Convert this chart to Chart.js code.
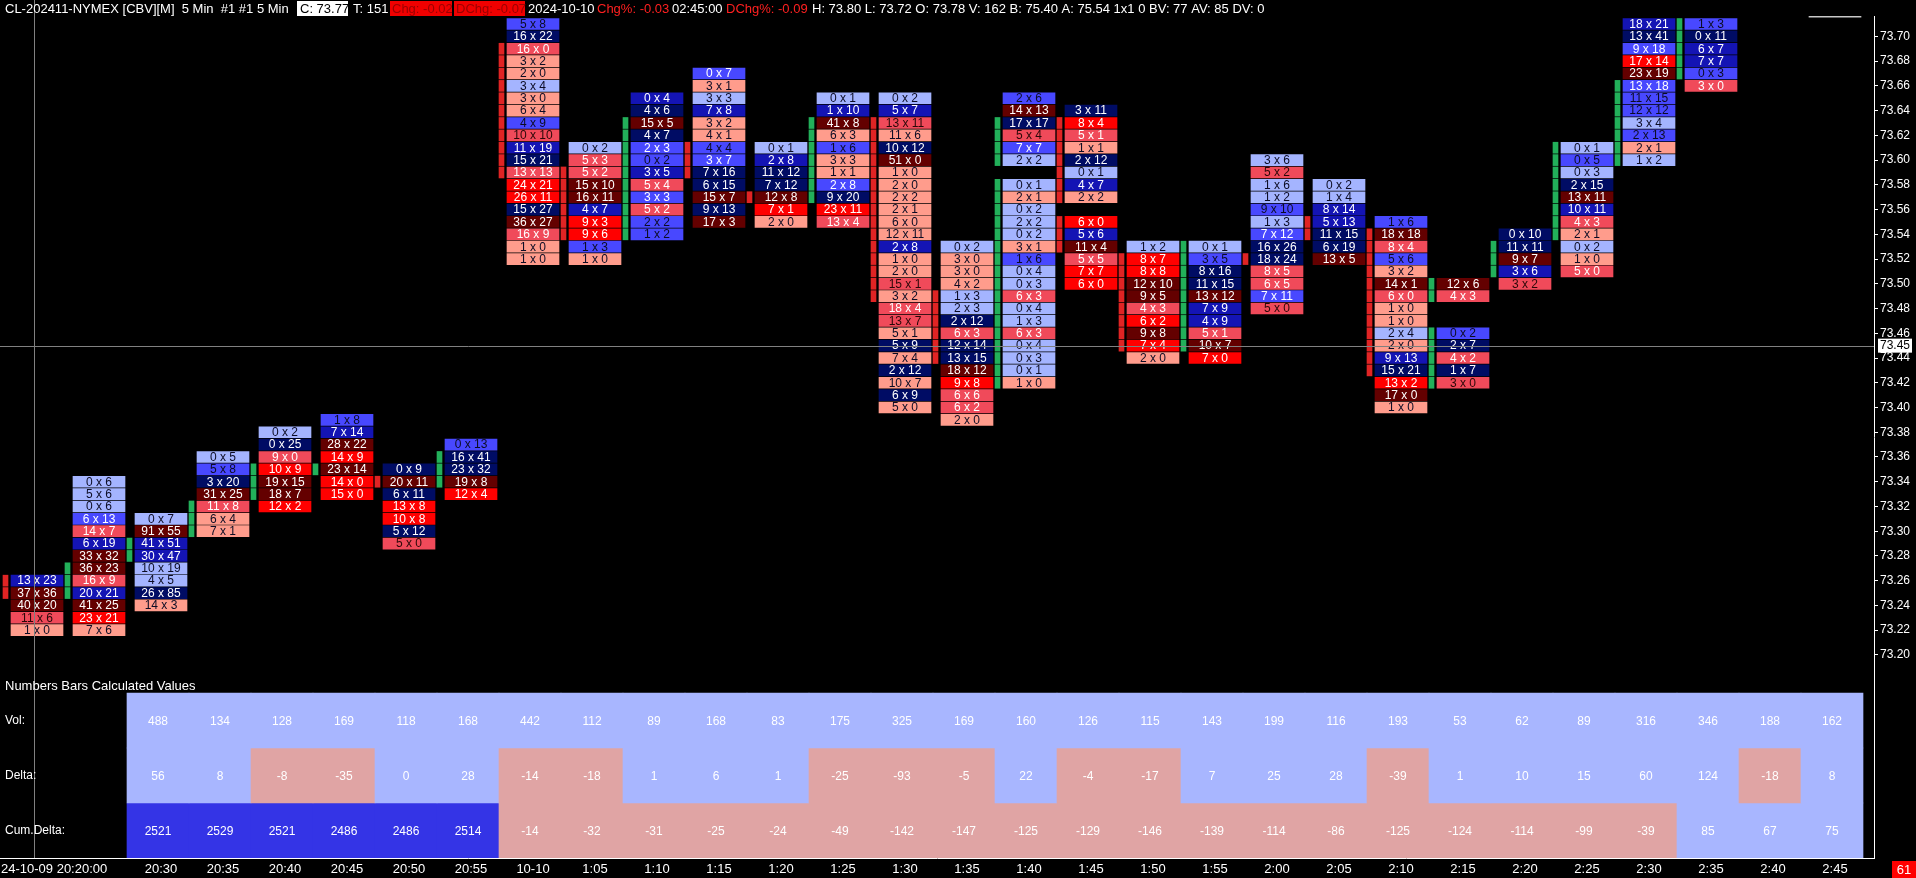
<!DOCTYPE html>
<html><head><meta charset="utf-8">
<script src="https://cdn.jsdelivr.net/npm/chart.js@4/dist/chart.umd.min.js"></script>
<style>html,body{margin:0;padding:0;background:#000;overflow:hidden}canvas{display:block}</style>
</head><body><canvas id="c" width="1916" height="878"></canvas>
<script>
// ---------------- DATA ----------------
const timeLabels = ['24-10-09 20:20:00','20:25','20:30','20:35','20:40','20:45','20:50','20:55','10-10','1:05','1:10','1:15','1:20','1:25','1:30','1:35','1:40','1:45','1:50','1:55','2:00','2:05','2:10','2:15','2:20','2:25','2:30','2:35','2:40','2:45'];
const priceTicks = [73.20,73.22,73.24,73.26,73.28,73.30,73.32,73.34,73.36,73.38,73.40,73.42,73.44,73.46,73.48,73.50,73.52,73.54,73.56,73.58,73.60,73.62,73.64,73.66,73.68,73.70];
// top price of each footprint bar (cells go down 0.01 per row)
const topPrice = [73.26,73.34,73.31,73.36,73.38,73.39,73.35,73.37,73.71,73.61,73.65,73.67,73.61,73.65,73.65,73.53,73.65,73.64,73.53,73.53,73.60,73.58,73.55,73.50,73.54,73.61,73.71,73.71,73.72,73.72];
const bidVol = [
 [13,37,40,11,1],
 [0,5,0,6,14,6,33,36,16,20,41,23,7],
 [0,91,41,30,10,4,26,14],
 [0,5,3,31,11,6,7],
 [0,0,9,10,19,18,12],
 [1,7,28,14,23,14,15],
 [0,20,6,13,10,5,5],
 [0,16,23,19,12],
 [5,16,16,3,2,3,3,6,4,10,11,15,13,24,26,15,36,16,1,1],
 [0,5,5,15,16,4,9,9,1,1],
 [0,4,15,4,2,0,3,5,3,5,2,1],
 [0,3,3,7,3,4,4,3,7,6,15,9,17],
 [0,2,11,7,12,7,2],
 [0,1,41,6,1,3,1,2,9,23,13],
 [0,5,13,11,10,51,1,2,2,2,6,12,2,1,2,15,3,18,13,5,5,7,2,10,6,5],
 [0,3,3,4,1,2,2,6,12,13,18,9,6,6,2],
 [2,14,17,5,7,2,null,0,2,0,2,0,3,1,0,0,6,0,1,6,0,0,0,1],
 [3,8,5,1,2,0,4,2,null,6,5,11,5,7,6],
 [1,8,8,12,9,4,6,9,7,2],
 [0,3,8,11,13,7,4,5,10,7],
 [3,5,1,1,9,1,7,16,18,8,6,7,5],
 [0,1,8,5,11,6,13],
 [1,18,8,5,3,14,6,1,1,2,2,9,15,13,17,1],
 [12,4,null,null,0,2,4,1,3],
 [0,11,9,3,3],
 [0,0,0,2,13,10,4,2,0,1,5],
 [18,13,9,17,23,13,11,12,3,2,2,1],
 [1,0,6,7,0,3],
 [],
 [1]
];
const askVol = [
 [23,36,20,6,0],
 [6,6,6,13,7,19,32,23,9,21,25,21,6],
 [7,55,51,47,19,5,85,3],
 [5,8,20,25,8,4,1],
 [2,25,0,9,15,7,2],
 [8,14,22,9,14,0,0],
 [9,11,11,8,8,12,0],
 [13,41,32,8,4],
 [8,22,0,2,0,4,0,4,9,10,19,21,13,21,11,27,27,9,0,0],
 [2,3,2,10,11,7,3,6,3,0],
 [4,6,5,7,3,2,5,4,3,2,2,2],
 [7,1,3,8,2,1,4,7,16,15,7,13,3],
 [1,8,12,12,8,1,0],
 [1,10,8,3,6,3,1,8,20,11,4],
 [2,7,11,6,12,0,0,0,2,1,0,11,8,0,0,1,2,4,7,1,9,4,12,7,9,0],
 [2,0,0,2,3,3,12,3,14,15,12,8,6,2,0],
 [6,13,17,4,7,2,null,1,1,2,2,2,1,6,4,3,3,4,3,3,4,3,1,0],
 [11,4,1,1,12,1,7,2,null,0,6,4,5,7,0],
 [2,7,8,10,5,3,2,8,4,0],
 [1,5,16,15,12,9,9,1,7,0],
 [6,2,6,2,10,3,12,26,24,5,5,11,0],
 [2,4,14,13,15,19,5],
 [6,18,4,6,2,1,0,0,0,4,0,13,21,2,0,0],
 [6,3,null,null,2,7,2,7,0],
 [10,11,7,6,2],
 [1,5,3,15,11,11,3,1,2,0,0],
 [21,41,18,14,19,18,15,12,4,13,1,2],
 [3,11,7,7,3,0],
 [],
 [1]
];
// open/close body markers drawn at the left of each bar
const bodyHi = [73.26,73.27,73.29,73.32,73.35,73.35,73.34,73.36,73.69,73.59,73.63,73.61,73.57,73.63,73.63,73.49,73.63,73.63,73.52,73.53,73.52,73.55,73.54,73.50,73.53,73.61,73.66,73.72,0,0];
const bodyLo = [73.25,73.25,73.28,73.30,73.33,73.35,73.34,73.34,73.59,73.54,73.54,73.59,73.57,73.57,73.49,73.44,73.42,73.53,73.45,73.45,73.52,73.54,73.43,73.42,73.51,73.54,73.60,73.67,0,0];
const bodyUp = [0,1,1,1,1,1,0,1,0,0,1,0,0,1,0,0,1,0,0,1,0,0,0,1,1,1,1,1,0,0];
// table: columns start at bar index 2 (20:30) and run to 2:45
const tableStart = 2;
const volVals = [488,134,128,169,118,168,442,112,89,168,83,175,325,169,160,126,115,143,199,116,193,53,62,89,316,346,188,162];
const deltaVals = [56,8,-8,-35,0,28,-14,-18,1,6,1,-25,-93,-5,22,-4,-17,7,25,28,-39,1,10,15,60,124,-18,8];
const cumDeltaVals = [2521,2529,2521,2486,2486,2514,-14,-32,-31,-25,-24,-49,-142,-147,-125,-129,-146,-139,-114,-86,-125,-124,-114,-99,-39,85,67,75];
const cursorPrice = 73.45;
const cursorIndex = -0.05;

// ---------------- STYLE ----------------
const FONT = '"Liberation Sans", Arial, sans-serif';
const BLUES = ['#a4b4ff','#4848ff','#1414b4','#000c64'];
const REDS  = ['#ff9c8c','#f04a5a','#ff0000','#640000'];
const GREEN = '#22b05a', MRED = '#e02424';
const T_LIGHT = '#a8b6ff', T_PINK = '#e0a4a4', T_BLUE = '#3434e6';
const HALF = 0.00445;           // half cell height in price units
const MARK_OFF = -31.5/62;      // marker column offset (in bar slots)
const TBL_OFF = -3/62;          // table column offset (in bar slots)

const sum = a => a.reduce((s,v)=>s+(v||0),0);
const cellData = [], markerData = [];
topPrice.forEach((top, i) => {
  const B = bidVol[i], A = askVol[i];
  const maxB = Math.max(1, ...B.filter(v=>v!=null));
  const maxA = Math.max(1, ...A.filter(v=>v!=null));
  const d = i >= tableStart ? deltaVals[i-tableStart] : sum(A) - sum(B);
  B.forEach((b, k) => {
    if (b == null) return;
    const a = A[k];
    const p = +(top - k*0.01).toFixed(2);
    const blue = a > b || (a === b && d > 0);
    const r = blue ? a/maxA : b/maxB;
    const lvl = r >= 0.75 ? 3 : r >= 0.5 ? 2 : r >= 0.25 ? 1 : 0;
    let txt = '#ffffff';
    if (lvl === 0) txt = '#0c0c24';
    else if (lvl === 1 && blue && r < 0.4) txt = '#0c0c24';
    else if (lvl === 1 && !blue && r < 0.3) txt = '#2a0808';
    const isCurrent = i === topPrice.length - 1;
    cellData.push({x: i, y: [p-HALF, p+HALF], label: b + ' x ' + a, color: isCurrent ? '#c8c8c8' : (blue ? BLUES : REDS)[lvl], text: txt});
    if (p <= bodyHi[i] + 1e-6 && p >= bodyLo[i] - 1e-6)
      markerData.push({x: i + MARK_OFF, y: [p-HALF, p+HALF], color: bodyUp[i] ? GREEN : MRED});
  });
});
const volData = volVals.map((v,j)=>({x: j+tableStart+TBL_OFF, y:[2,3], v, color: T_LIGHT}));
const deltaData = deltaVals.map((v,j)=>({x: j+tableStart+TBL_OFF, y:[1,2], v, color: v < 0 ? T_PINK : T_LIGHT}));
const cumData = cumDeltaVals.map((v,j)=>({x: j+tableStart+TBL_OFF, y:[0,1], v, color: v < 0 ? T_PINK : (v >= 100 ? T_BLUE : T_LIGHT)}));

const bg = c => c.raw.color;
const common = {borderWidth: 0, grouped: true, stack: 'one', backgroundColor: bg, clip: 0, borderSkipped: false};

const fpPlugin = {
  id: 'fp',
  beforeDraw(chart) {
    const ctx = chart.ctx;
    ctx.save(); ctx.fillStyle = '#000'; ctx.fillRect(0,0,chart.width,chart.height); ctx.restore();
  },
  afterDatasetsDraw(chart) {
    const ctx = chart.ctx, a = chart.chartArea;
    ctx.save();
    ctx.beginPath(); ctx.rect(a.left, a.top, a.right-a.left, a.bottom-a.top); ctx.clip();
    ctx.textAlign = 'center'; ctx.textBaseline = 'middle';
    ctx.font = '12px ' + FONT;
    chart.getDatasetMeta(0).data.forEach((el, k) => {
      const raw = cellData[k];
      ctx.fillStyle = raw.text;
      ctx.fillText(raw.label, el.x, (el.y + el.base)/2 + 0.5);
    });
    [2,3,4].forEach(di => {
      const ds = chart.data.datasets[di];
      chart.getDatasetMeta(di).data.forEach((el, k) => {
        ctx.fillStyle = '#ffffff';
        ctx.fillText(String(ds.data[k].v), el.x, (el.y + el.base)/2 + 1);
      });
    });
    // crosshair horizontal
    const cy = Math.round(chart.scales.y.getPixelForValue(cursorPrice)) + 0.5;
    ctx.strokeStyle = '#808080'; ctx.lineWidth = 1;
    ctx.beginPath(); ctx.moveTo(a.left, cy); ctx.lineTo(a.right, cy); ctx.stroke();
    ctx.restore();
  },
  afterDraw(chart) {
    const ctx = chart.ctx, a = chart.chartArea;
    const xs = chart.scales.x, ys = chart.scales.y;
    ctx.save();
    // vertical crosshair
    const cx = Math.round(xs.getPixelForValue(cursorIndex)) + 0.5;
    ctx.strokeStyle = '#808080'; ctx.lineWidth = 1;
    ctx.beginPath(); ctx.moveTo(cx, 0); ctx.lineTo(cx, a.bottom); ctx.stroke();
    // header
    ctx.textBaseline = 'middle'; ctx.textAlign = 'left';
    ctx.font = '13px ' + FONT;
    const hy = 9;
    const box = (x0, x1, fill) => { ctx.fillStyle = fill; ctx.fillRect(x0, 1, x1-x0, 15); };
    ctx.fillStyle = '#fff'; ctx.fillText('CL-202411-NYMEX [CBV][M]  5 Min  #1 #1 5 Min', 5, hy);
    box(297, 348, '#ffffff'); ctx.fillStyle = '#000'; ctx.fillText('C: 73.77', 300, hy);
    ctx.fillStyle = '#fff'; ctx.fillText('T: 151', 353, hy);
    box(390, 452, '#f00000'); ctx.fillStyle = '#9a0000'; ctx.fillText('Chg: -0.02', 392, hy);
    box(454, 525, '#f00000'); ctx.fillStyle = '#9a0000'; ctx.fillText('DChg: -0.07', 456, hy);
    ctx.fillStyle = '#fff'; ctx.fillText('2024-10-10', 528, hy);
    ctx.fillStyle = '#ff2020'; ctx.fillText('Chg%: -0.03', 597, hy);
    ctx.fillStyle = '#fff'; ctx.fillText('02:45:00', 672, hy);
    ctx.fillStyle = '#ff2020'; ctx.fillText('DChg%: -0.09', 726, hy);
    ctx.fillStyle = '#fff'; ctx.fillText('H: 73.80 L: 73.72 O: 73.78 V: 162 B: 75.40 A: 75.54 1x1 0 BV: 77 AV: 85 DV: 0', 812, hy);
    // table titles
    ctx.font = '13px ' + FONT; ctx.fillStyle = '#fff';
    ctx.fillText('Numbers Bars Calculated Values', 5, 686);
    ctx.font = '12px ' + FONT;
    const yt = chart.scales.yt;
    [['Vol:',2.5],['Delta:',1.5],['Cum.Delta:',0.5]].forEach(([t,v]) => ctx.fillText(t, 5, yt.getPixelForValue(v)));
    // first time label
    ctx.font = '13px ' + FONT; ctx.fillStyle = '#fff';
    ctx.fillText(timeLabels[0], 1, 869);
    // highlighted cursor price label
    const py = ys.getPixelForValue(cursorPrice);
    ctx.font = '12px ' + FONT;
    ctx.fillStyle = '#fff'; ctx.fillRect(1878, py-7, 34, 14);
    ctx.fillStyle = '#000'; ctx.fillText(cursorPrice.toFixed(2), 1880, py+0.5);
    // bottom-right counter
    ctx.fillStyle = '#ff0000'; ctx.fillRect(1892, 861, 24, 17);
    ctx.fillStyle = '#fff'; ctx.textAlign = 'center'; ctx.font = '13px ' + FONT;
    ctx.fillText('61', 1904, 870);
    ctx.restore();
  }
};

new Chart(document.getElementById('c'), {
  type: 'bar',
  data: {datasets: [
    Object.assign({data: cellData, barThickness: 52}, common),
    Object.assign({data: markerData, barThickness: 5}, common),
    Object.assign({data: volData, barThickness: 62, yAxisID: 'yt'}, common),
    Object.assign({data: deltaData, barThickness: 62, yAxisID: 'yt'}, common),
    Object.assign({data: cumData, barThickness: 62, yAxisID: 'yt'}, common)
  ]},
  options: {
    responsive: false, animation: false, devicePixelRatio: 1,
    layout: {padding: {top: 16, left: 0, right: 0, bottom: 0}},
    plugins: {legend: {display: false}, tooltip: {enabled: false}},
    events: [],
    scales: {
      x: {
        type: 'linear', position: 'bottom', offset: false,
        min: -37/62, max: -37/62 + 1874/62,
        afterFit: s => { s.height = 20; },
        afterBuildTicks: s => { s.ticks = timeLabels.map((t,i)=>({value:i})).slice(tableStart); },
        grid: {display: true, drawOnChartArea: false, drawTicks: false, offset: false},
        border: {display: true, color: '#ffffff', width: 1},
        ticks: {color: '#ffffff', font: {size: 13, family: FONT}, padding: 4, autoSkip: false, maxRotation: 0,
                callback: v => timeLabels[v]}
      },
      y: {
        type: 'linear', position: 'right', stacked: false,
        min: 73.70 - 20.4/1237, max: 73.70 + 20.4/1237,
        afterDataLimits: s => { s.max = 73.70 + 20.4/1237; s.min = s.max - 842/1237; },
        afterFit: s => { s.width = 42; },
        afterBuildTicks: s => { s.ticks = priceTicks.map(v => ({value: v})); },
        grid: {drawOnChartArea: false, drawTicks: true, tickLength: 4, color: '#ffffff'},
        border: {display: true, color: '#ffffff', width: 1},
        ticks: {color: '#ffffff', font: {size: 12, family: FONT}, padding: 2, autoSkip: false,
                callback: v => v.toFixed(2)}
      },
      yt: {type: 'linear', display: false, stacked: false, min: 0, max: 842/55}
    }
  },
  plugins: [fpPlugin]
});
</script></body></html>
